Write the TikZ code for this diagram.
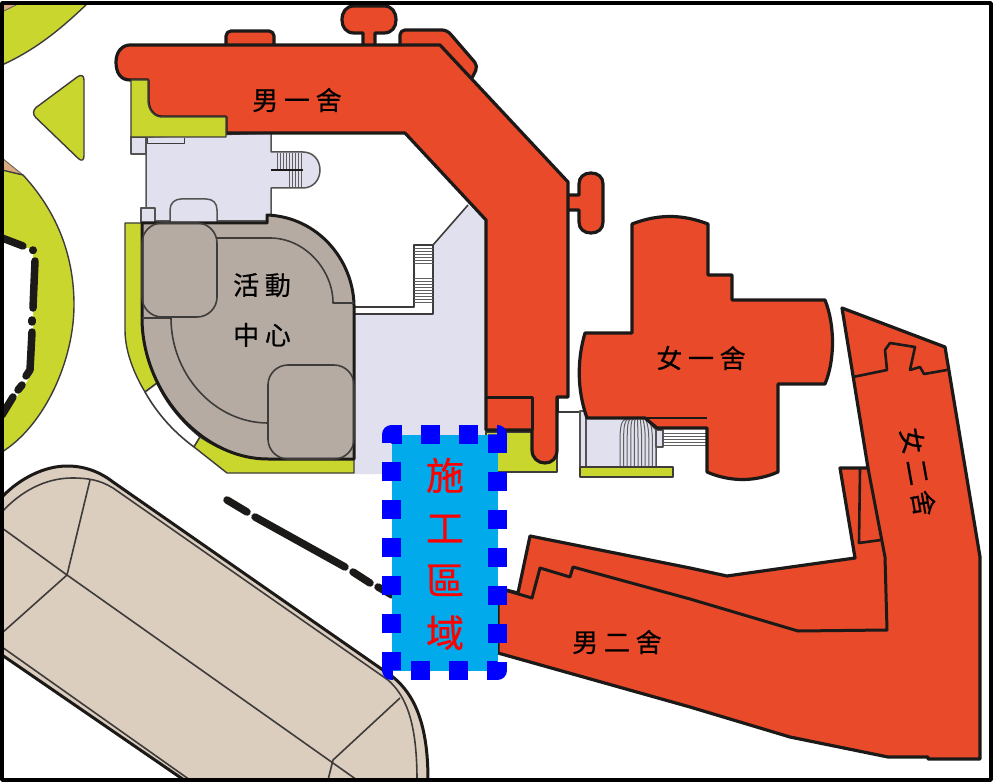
\documentclass[tikz,border=0pt]{standalone}
\usepackage{fontspec}
\newfontfamily\cjk[LetterSpace=22,FakeBold=.5]{Noto Sans CJK TC}
\newfontfamily\cjkzone[FakeBold=.5]{Noto Sans CJK TC}
\definecolor{dorm}{HTML}{E94A2A}
\definecolor{lawn}{HTML}{C8D62E}
\definecolor{hall}{HTML}{E0E0EE}
\definecolor{club}{HTML}{B5ABA3}
\definecolor{track}{HTML}{DCCEBE}
\definecolor{soil}{HTML}{DDAA80}
\definecolor{ink}{HTML}{1C1A18}
\definecolor{zone}{HTML}{00AAEB}
\begin{document}
\begin{tikzpicture}[x=1pt,y=-1pt,line join=round,
  dormp/.style={draw=ink,fill=dorm,line width=3.2pt},
  lawnp/.style={draw=ink!85,fill=lawn,line width=1.4pt},
  hallp/.style={draw=ink!75,fill=hall,line width=1.5pt},
  clubp/.style={draw=ink,fill=club,line width=3pt},
  thin1/.style={draw=ink!85,line width=1.6pt},
  thin2/.style={draw=ink!70,line width=.9pt},
  path1/.style={draw=ink,line width=7.5pt,line cap=round},
  lbl/.style={inner sep=0pt,text=black,font=\cjk\fontsize{26}{50}\selectfont,align=center}]
\useasboundingbox (0,0) rectangle (993,783);
\draw[lawnp] (2,3) -- (88,3) .. controls (60,30) and (35,50) .. (2,65) -- cycle;
\draw[thin2,fill=soil] (2,3) -- (20,3) -- (2,12) -- cycle;
\draw[lawnp,rounded corners=8pt] (30,112) -- (84,72) -- (84,164) -- cycle;
\draw[thin2,fill=soil] (2,158) -- (23,175) -- (2,172) -- cycle;
\draw[lawnp] (2,170) -- (23,175) .. controls (60,215) and (74,260) .. (74,305) .. controls (74,360) and (45,425) .. (2,452) -- cycle;
\fill[white] (2,238) -- (33,250) -- (33,372) -- (2,420) -- cycle;
\draw[path1] (2,238) -- (23,246);
\draw[path1] (33,250) -- (33,250.5);
\draw[path1] (35,261) -- (33,308);
\draw[path1] (32,320) -- (32,322);
\draw[path1] (32,332) -- (30,370) -- (26,376);
\draw[path1] (22,385) -- (18,390);
\draw[path1] (13,397) -- (2,415);
\draw[draw=ink,fill=track,line width=3pt] (2,497) .. controls (20,478) and (45,466) .. (67,466) .. controls (85,466) and (100,472) .. (113,482) -- (393,677) .. controls (415,695) and (428,725) .. (428,780) -- (184,780) -- (2,655) -- cycle;
\draw[thin1] (2,512) .. controls (20,492) and (45,478) .. (72,478) .. controls (88,478) and (100,480) .. (113,488) -- (388,680) .. controls (405,695) and (417,720) .. (417,780);
\draw[thin1] (2,647) -- (190,780);
\draw[thin1] (2,528) -- (67,575) -- (90,480);
\draw[thin1] (67,575) -- (357,780);
\draw[thin1] (67,575) -- (2,633);
\draw[thin1] (400,698) -- (333,760) -- (328,780);
\draw[path1] (227,500) -- (247,512);
\draw[path1] (255,517) -- (345,567);
\draw[path1] (353,572) -- (370,583);
\draw[path1] (378,587) -- (392,595);
\draw[hallp] (131,137) rectangle (146,154);
\draw[hallp] (146,137) -- (271,133) -- (271,152) -- (303,152) .. controls (313,152) and (320,160) .. (320,170) .. controls (320,180) and (313,188) .. (303,188) -- (271,188) -- (271,221) -- (146,221) -- cycle;
\draw[thin1,line width=1pt] (147,138) -- (147,144) -- (184,144) -- (184,138);
\foreach \x in {277,280,...,302} {\draw[thin2] (\x,153) -- (\x,169);}
\foreach \x in {289,292,...,302} {\draw[thin2] (\x,171) -- (\x,187);}
\draw[draw=ink,line width=2.4pt] (271,170) -- (303,170);
\draw[hallp] (141,208) rectangle (155,223);
\draw[hallp] (170,223) -- (170,210) .. controls (170,203) and (175,199) .. (181,199) -- (206,199) .. controls (213,199) and (217,203) .. (217,210) -- (217,238);
\fill[hall] (433,245) -- (468,205) -- (486,220) -- (486,474) -- (354,474) -- (354,314) -- (433,314) -- cycle;
\draw[thin1] (468,205) -- (433,245) -- (433,314) -- (354,314);
\draw[thin1] (354,307) -- (414,307) -- (414,245) -- (433,245);
\foreach \y in {248,251,...,264} {\draw[thin2] (414,\y) -- (433,\y);}
\foreach \y in {278,281,...,302} {\draw[thin2] (414,\y) -- (433,\y);}
\draw[lawnp] (125,223) -- (142,223) -- (142,318) .. controls (142,340) and (147,362) .. (157,383) -- (145,392) .. controls (133,372) and (125,350) .. (125,330) -- cycle;
\draw[thin1,fill=white] (145,392) .. controls (158,415) and (175,433) .. (194,447) -- (200,437) .. controls (182,422) and (167,405) .. (157,383) -- cycle;
\draw[lawnp] (200,437) .. controls (220,450) and (243,459) .. (268,459) -- (354,459) -- (354,473) -- (227,473) -- (194,447) -- cycle;
\draw[clubp] (142,223) -- (267,223) -- (267,215) .. controls (318,217) and (353,260) .. (354,305) -- (354,459) -- (268,459) .. controls (200,459) and (142,390) .. (142,318) -- cycle;
\draw[thin1] (217,238) -- (270,238) .. controls (305,238) and (333,270) .. (333,303) -- (354,303);
\draw[thin1] (142,318) -- (171,318) .. controls (171,375) and (215,423) .. (268,423);
\draw[thin1,rounded corners=20pt] (142,223) rectangle (217,317);
\draw[thin1,rounded corners=20pt] (268,365) rectangle (354,459);
\draw[lawnp] (486,432) -- (532,432) -- (532,450) -- (557,450) -- (557,472) -- (486,472) -- cycle;
\draw[thin1,fill=white] (558,397) -- (558,412) -- (580,412);
\draw[dormp,rounded corners=5pt] (226,47) -- (226,31) -- (274,31) -- (274,47);
\draw[dormp] (363,47) -- (363,33) -- (354,33) .. controls (346,33) and (342,27) .. (342,20) .. controls (342,12) and (346,6) .. (354,6) -- (384,6) .. controls (392,6) and (396,12) .. (396,20) .. controls (396,27) and (392,33) .. (384,33) -- (375,33) -- (375,47);
\draw[dormp,rounded corners=5pt] (400,47) -- (400,30) -- (447,30) -- (478,66) -- (472,78);
\draw[dormp] (566,195) -- (579,195) -- (579,184) .. controls (579,177) and (584,173) .. (591,173) .. controls (598,173) and (603,177) .. (603,184) -- (603,222) .. controls (603,229) and (598,233) .. (591,233) .. controls (584,233) and (579,229) .. (579,222) -- (579,210) -- (566,210);
\draw[dormp] (130,45) -- (440,45) -- (568,182) -- (568,397) -- (557,397) -- (557,450) .. controls (557,458) and (552,463) .. (545,463) .. controls (538,463) and (532,458) .. (532,450) -- (532,430) -- (486,430) -- (486,220) -- (405,133) -- (226,133) -- (226,117) -- (162,117) .. controls (154,117) and (148,110) .. (148,100) -- (148,80) -- (130,80) .. controls (120,80) and (116,72) .. (116,62) .. controls (116,52) and (122,45) .. (130,45) -- cycle;
\draw[draw=ink,line width=3pt] (486,397) -- (532,397) -- (532,430);
\draw[lawnp] (131,80) -- (148,80) -- (148,100) .. controls (148,110) and (154,117) .. (162,117) -- (226,117) -- (226,137) -- (131,137) -- cycle;
\draw[hallp] (580,411) rectangle (586,467);
\draw[hallp] (586,418) -- (645,418) -- (656,430) -- (656,467) -- (586,467) -- cycle;
\foreach \i in {0,...,9} {\draw[draw=ink!70,line width=1pt] ({620+3.6*\i},467) -- ({620+3.6*\i},440) .. controls ({620+3.6*\i},425) and ({622+3*\i},420) .. ({626+2.4*\i},419);}
\draw[hallp] (656,430) rectangle (663,447);
\foreach \y in {433,436,...,446} {\draw[thin2] (663,\y) -- (707,\y);}
\draw[lawnp] (580,467) rectangle (673,477);
\draw[dormp] (632,224) .. controls (658,214) and (682,214) .. (708,224) -- (708,275) -- (732,275) -- (732,300) -- (825,300) .. controls (835,325) and (835,360) .. (825,384) -- (778,384) -- (778,472) .. controls (755,482) and (730,482) .. (707,472) -- (707,428) -- (657,428) -- (645,418) -- (587,418) .. controls (577,390) and (577,360) .. (585,333) -- (632,333) -- cycle;
\draw[draw=ink,line width=1.4pt] (645,418) -- (707,418);
\draw[dormp] (842,308) -- (945,347) -- (980,557) -- (980,759) -- (928,759) -- (928,757) -- (888,757) -- (790,737) -- (690,707) -- (498,653) -- (498,588) -- (518,593) -- (530,536) -- (690,568) -- (727,576) -- (855,558) -- (840,468) -- (868,468) -- cycle;
\draw[draw=ink,line width=3pt] (868,468) -- (885,557) -- (887,630) -- (798,631) -- (690,599) -- (573,567) -- (570,577) -- (540,568) -- (532,598) -- (498,588);
\draw[draw=ink,line width=2.6pt] (860,469) -- (859,543) -- (881,540);
\draw[draw=ink,line width=2.6pt] (853,377) -- (887,370) -- (885,350) -- (890,343) -- (915,347) -- (910,370) -- (920,367) -- (924,374) -- (947,370);
\node[lbl] (dormA) at (297,100) {男一舍};
\node[lbl] (dormB) at (617,642) {男二舍};
\node[lbl] (dormC) at (701,358) {女一舍};
\node[lbl,rotate=-80] (dormD) at (918,472) {女二舍};
\node[lbl] (club) at (262,310) {活動\\中心};
\fill[zone] (392,435) rectangle (497.5,670.5);
\draw[draw=blue,line width=19pt,dash pattern=on 19pt off 19pt] (421,434.5) -- (497.5,434.5) -- (497.5,670.5) -- (391.5,670.5) -- (391.5,434.5) -- cycle;
\node[inner sep=0pt,text=red,align=center,font=\cjkzone\fontsize{38}{52.5}\selectfont] (work) at (445,554) {施\\工\\區\\域};
\draw[draw=black,line width=3.5pt] (2,3) rectangle (991,780);
\end{tikzpicture}
\end{document}
